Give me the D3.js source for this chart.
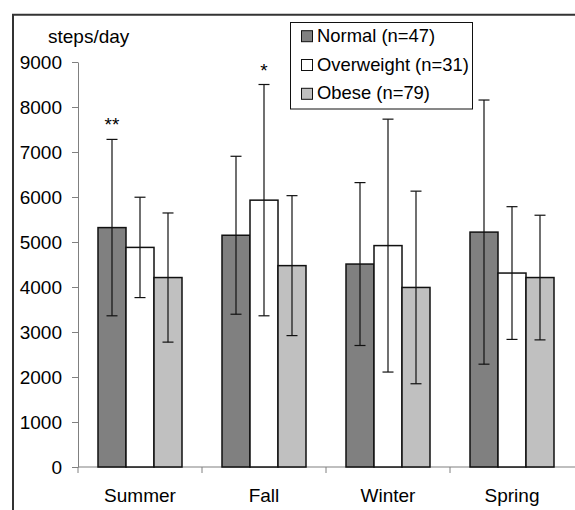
<!DOCTYPE html>
<html>
<head>
<meta charset="utf-8">
<script src="https://cdn.jsdelivr.net/npm/d3@7"></script>
<style>
  body { margin: 0; background: #fff; }
  svg { display: block; font-family: "Liberation Sans", Arial, sans-serif; }
</style>
</head>
<body>
<div id="chart"></div>
<script>
// Steps per day by season and weight group (mean +/- SD)
const seasons = ['Summer', 'Fall', 'Winter', 'Spring'];
const groups = ['Normal (n=47)', 'Overweight (n=31)', 'Obese (n=79)'];
const normal = [5320, 5150, 4510, 5220];
const normalSD = [1960, 1755, 1810, 2935];
const overweight = [4880, 5930, 4920, 4310];
const overweightSD = [1115, 2570, 2810, 1475];
const obese = [4210, 4475, 3990, 4210];
const obeseSD = [1435, 1555, 2140, 1385];
const yTicks = [0, 1000, 2000, 3000, 4000, 5000, 6000, 7000, 8000, 9000];
// significance marks: [season index, group index, label]
const marks = [[0, 0, '**'], [1, 1, '*']];

const colors = ['#808080', '#ffffff', '#c0c0c0'];
const means = [normal, overweight, obese];
const sds = [normalSD, overweightSD, obeseSD];

const width = 575, height = 510;
const fontSize = '19px';

const svg = d3.select('#chart')
  .append('svg')
  .attr('width', width)
  .attr('height', height);

// outer frame (runs off the right and bottom)
svg.append('path')
  .attr('d', `M13,${height + 5} L13,14.7 L${width + 5},14.7`)
  .attr('fill', 'none')
  .attr('stroke', '#333')
  .attr('stroke-width', 2);

const x0 = d3.scaleBand()
  .domain(seasons)
  .range([78, 574])
  .paddingInner(40 / 124)
  .paddingOuter(20 / 124);

const x1 = d3.scaleBand()
  .domain(d3.range(groups.length))
  .range([0, x0.bandwidth()]);

const y = d3.scaleLinear()
  .domain([0, 9000])
  .range([467, 62]);

// y axis
const yAxis = svg.append('g')
  .attr('transform', 'translate(78,0)')
  .call(d3.axisLeft(y).tickValues(yTicks).tickFormat(d3.format('d'))
    .tickSize(6).tickPadding(10).tickSizeOuter(0));
yAxis.select('.domain').attr('stroke', '#808080');
yAxis.selectAll('.tick line').attr('stroke', '#808080');
yAxis.selectAll('.tick text')
  .attr('font-size', fontSize)
  .attr('font-family', '"Liberation Sans", Arial, sans-serif')
  .attr('fill', '#000');

svg.append('text')
  .attr('x', 48)
  .attr('y', 43)
  .attr('font-size', fontSize)
  .text('steps/day');

// x axis line with ticks between categories
const step = x0.step();
const boundaries = d3.range(seasons.length).map(i => 78 + i * step);
svg.append('line')
  .attr('x1', 78).attr('x2', width)
  .attr('y1', y(0)).attr('y2', y(0))
  .attr('stroke', '#808080')
  .attr('stroke-width', 1.2);
svg.selectAll('.xtick')
  .data(boundaries)
  .enter().append('line')
  .attr('class', 'xtick')
  .attr('x1', d => d).attr('x2', d => d)
  .attr('y1', y(0)).attr('y2', y(0) + 6)
  .attr('stroke', '#808080');

svg.selectAll('.xlabel')
  .data(seasons)
  .enter().append('text')
  .attr('class', 'xlabel')
  .attr('x', d => x0(d) + x0.bandwidth() / 2)
  .attr('y', 501.5)
  .attr('text-anchor', 'middle')
  .attr('font-size', fontSize)
  .text(d => d);

// bars and error bars
const rows = [];
seasons.forEach((s, i) => {
  groups.forEach((g, j) => {
    rows.push({ season: s, i, j, mean: means[j][i], sd: sds[j][i] });
  });
});

svg.selectAll('.bar')
  .data(rows)
  .enter().append('rect')
  .attr('class', 'bar')
  .attr('x', d => x0(d.season) + x1(d.j))
  .attr('y', d => y(d.mean))
  .attr('width', x1.bandwidth())
  .attr('height', d => y(0) - y(d.mean))
  .attr('fill', d => colors[d.j])
  .attr('stroke', '#111')
  .attr('stroke-width', 1.5);

const cx = d => x0(d.season) + x1(d.j) + x1.bandwidth() / 2;
const capW = 5.5;
const err = svg.append('g').attr('stroke', '#111').attr('stroke-width', 1.2);
err.selectAll('.ev')
  .data(rows)
  .enter().append('line')
  .attr('x1', cx).attr('x2', cx)
  .attr('y1', d => y(d.mean + d.sd))
  .attr('y2', d => y(d.mean - d.sd));
err.selectAll('.ct')
  .data(rows)
  .enter().append('line')
  .attr('x1', d => cx(d) - capW).attr('x2', d => cx(d) + capW)
  .attr('y1', d => y(d.mean + d.sd)).attr('y2', d => y(d.mean + d.sd));
err.selectAll('.cb')
  .data(rows)
  .enter().append('line')
  .attr('x1', d => cx(d) - capW).attr('x2', d => cx(d) + capW)
  .attr('y1', d => y(d.mean - d.sd)).attr('y2', d => y(d.mean - d.sd));

// significance asterisks
svg.selectAll('.sig')
  .data(marks)
  .enter().append('text')
  .attr('class', 'sig')
  .attr('x', m => x0(seasons[m[0]]) + x1(m[1]) + x1.bandwidth() / 2)
  .attr('y', m => y(means[m[1]][m[0]] + sds[m[1]][m[0]]) - 8)
  .attr('text-anchor', 'middle')
  .attr('font-size', fontSize)
  .text(m => m[2]);

// legend
const legend = svg.append('g');
legend.append('rect')
  .attr('x', 290.5).attr('y', 22.5)
  .attr('width', 182).attr('height', 86.5)
  .attr('fill', '#fff')
  .attr('stroke', '#111');
const item = legend.selectAll('.item')
  .data(groups)
  .enter().append('g')
  .attr('class', 'item')
  .attr('transform', (d, i) => `translate(0,${41.7 + i * 28.8})`);
item.append('rect')
  .attr('x', 301.5).attr('y', -11)
  .attr('width', 11).attr('height', 11)
  .attr('fill', (d, i) => colors[i])
  .attr('stroke', '#111');
item.append('text')
  .attr('x', 317)
  .attr('y', 0)
  .attr('font-size', '18.4px')
  .text(d => d);
</script>
</body>
</html>
